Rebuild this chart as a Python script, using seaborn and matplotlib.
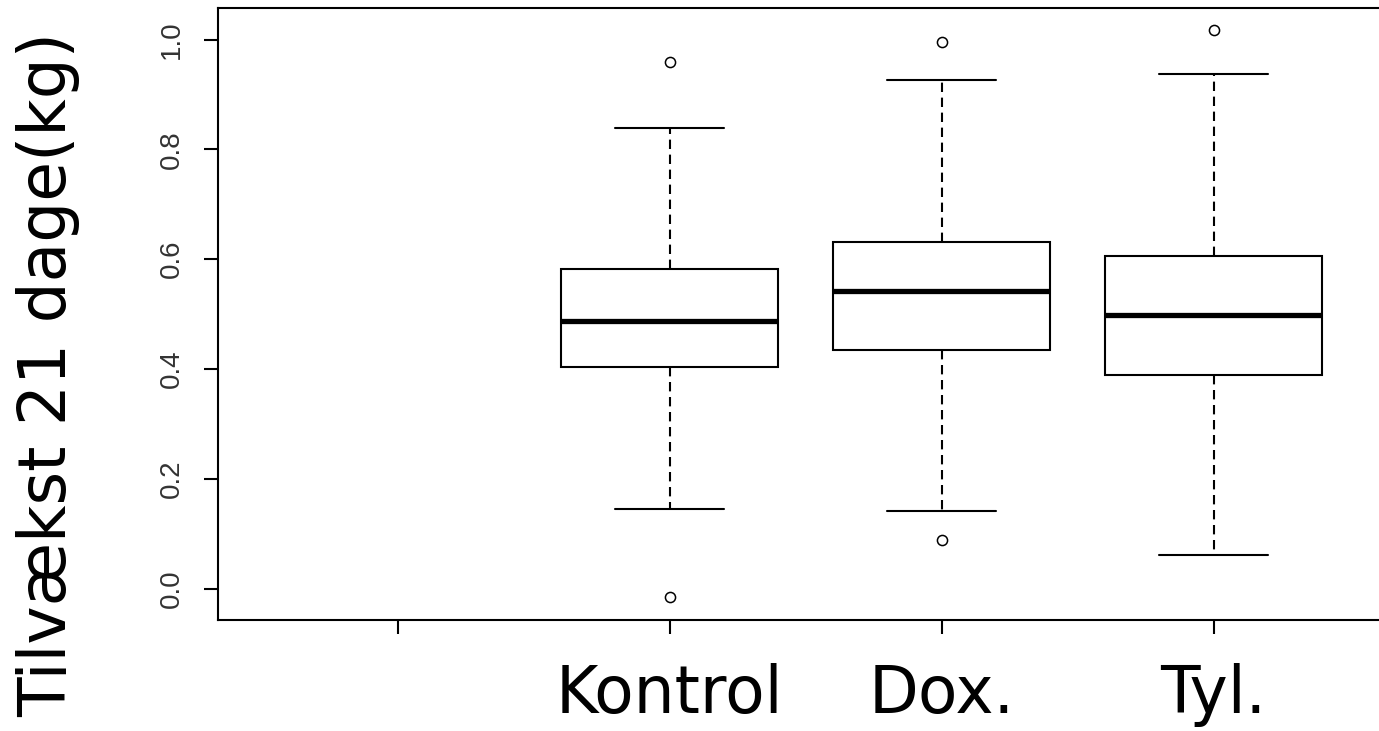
import numpy as np
import pandas as pd
import matplotlib
matplotlib.use("Agg")
import matplotlib.pyplot as plt
import seaborn as sns

# Treatment groups along the x axis; the first slot is left empty
groups = ["", "Kontrol", "Dox.", "Tyl."]
boxed_groups = ["Kontrol", "Dox.", "Tyl."]

# Five-number summaries of weight gain per group (kg)
whisker_low = [0.145, 0.142, 0.061]
q1 = [0.403, 0.435, 0.389]
median = [0.487, 0.542, 0.498]
q3 = [0.583, 0.632, 0.606]
whisker_high = [0.839, 0.927, 0.937]

# Observations beyond the whiskers
outlier_groups = ["Kontrol", "Kontrol", "Dox.", "Dox.", "Tyl."]
outlier_values = [-0.015, 0.960, 0.088, 0.996, 1.017]

y_ticks = [0.0, 0.2, 0.4, 0.6, 0.8, 1.0]
y_tick_labels = ["0.0", "0.2", "0.4", "0.6", "0.8", "1.0"]
y_label = "Tilvækst 21 dage(kg)"

summary = pd.DataFrame({
    "gruppe": np.repeat(boxed_groups, 5),
    "tilvaekst": np.column_stack([whisker_low, q1, median, q3, whisker_high]).ravel(),
})
outliers = pd.DataFrame({"gruppe": outlier_groups, "tilvaekst": outlier_values})

sns.set_style("ticks")
plt.rcParams["font.family"] = ["DejaVu Sans"]
plt.rcParams["text.color"] = "black"
plt.rcParams["axes.labelcolor"] = "black"
plt.rcParams["xtick.color"] = "black"
plt.rcParams["ytick.color"] = "black"

fig = plt.figure(figsize=(13.79, 7.31), dpi=100)
ax = fig.add_axes([0.1581, 0.1525, 0.8521, 0.837])

sns.boxplot(
    data=summary, x="gruppe", y="tilvaekst", order=groups,
    whis=(0, 100), width=0.8, color="white", linecolor="black",
    linewidth=1.5, fliersize=0,
    whiskerprops=dict(linestyle=(0, (4.5, 2.7))),
    medianprops=dict(linewidth=3.8),
    ax=ax,
)
sns.stripplot(
    data=outliers, x="gruppe", y="tilvaekst", order=groups, jitter=False,
    marker="o", size=7.3, color="white", edgecolor="black", linewidth=1.1,
    ax=ax, zorder=4,
)

ax.set_xlim(-0.66, 3.66)
ax.set_ylim(-0.056, 1.058)

ax.set_xticks(range(len(groups)))
ax.set_xticklabels(groups, fontsize=46.5, family="DejaVu Sans", color="black")
ax.set_yticks(y_ticks)
ax.set_yticklabels(y_tick_labels, rotation=90, va="center", fontsize=20,
                   family=["Liberation Sans Narrow", "Liberation Sans"],
                   color="#333333")

ax.tick_params(axis="both", length=10, width=1.5, color="black", direction="out")
ax.tick_params(axis="x", pad=21.5)
ax.tick_params(axis="y", pad=13.7)

for side in ["left", "right", "top", "bottom"]:
    ax.spines[side].set_linewidth(1.5)
    ax.spines[side].set_color("black")

ax.set_xlabel("")
ax.set_ylabel(y_label, fontsize=46.5, color="black")
ax.yaxis.set_label_coords(-0.1174, 0.4004)

fig.savefig("out.png", dpi=100)
